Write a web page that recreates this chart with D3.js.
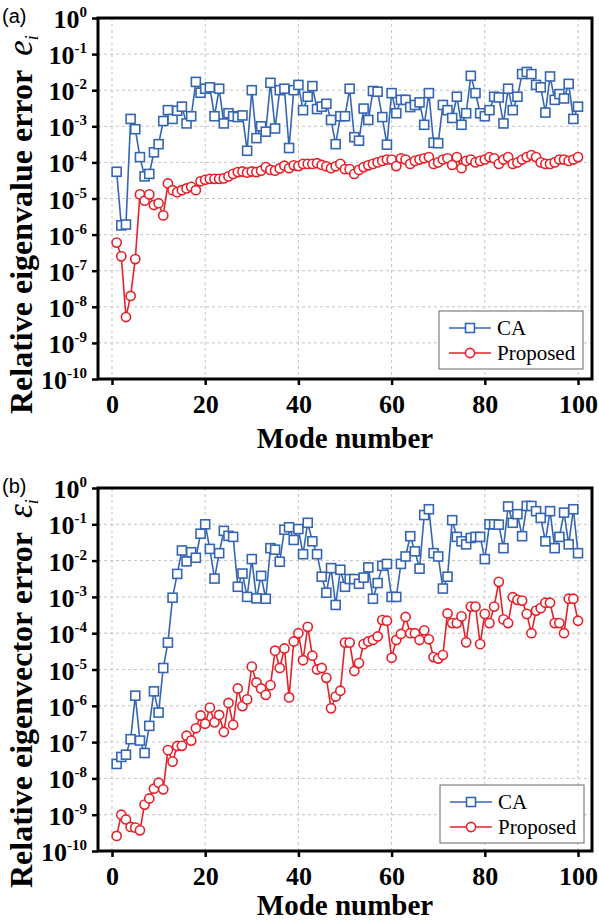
<!DOCTYPE html>
<html>
<head>
<meta charset="utf-8">
<script src="https://cdn.jsdelivr.net/npm/d3@7"></script>
<style>
	body { margin: 0; background: #fff; }
	svg { display: block; }
</style>
</head>
<body>
<svg id="chart" width="599" height="923"></svg>
<script>
// mode numbers 1..100
const modes = d3.range(1, 101);

const xTicks = [0, 20, 40, 60, 80, 100];
const yExponents = [0, -1, -2, -3, -4, -5, -6, -7, -8, -9, -10];

// (a) relative eigenvalue error
const caEigenvalue = [
	5.5e-5, 1.8e-6, 1.9e-6, 1.6e-3, 8.3e-4, 1.4e-4, 4.1e-5, 4.8e-5, 1.9e-4, 3.2e-4,
	1.4e-3, 2.8e-3, 1.6e-3, 2.7e-3, 3.5e-3, 1.2e-3, 1.9e-3, 1.7e-2, 8.5e-3, 1.1e-2,
	1.2e-2, 1.9e-3, 1.1e-2, 1.2e-3, 2.3e-3, 1.9e-3, 1.8e-3, 2.0e-3, 2.1e-4, 1.0e-2,
	4.7e-4, 1.0e-3, 7.1e-4, 1.6e-2, 8.7e-4, 1.0e-2, 1.1e-2, 2.5e-4, 1.0e-2, 1.4e-2,
	2.8e-3, 6.6e-3, 1.3e-2, 3.0e-3, 3.5e-3, 4.2e-3, 1.5e-3, 3.2e-4, 1.9e-3, 1.9e-3,
	1.1e-2, 5.0e-4, 4.0e-4, 3.1e-3, 1.5e-3, 9.5e-3, 9.1e-3, 1.8e-3, 3.1e-4, 8.3e-3,
	2.3e-3, 5.4e-3, 5.4e-3, 3.4e-3, 3.9e-3, 4.6e-3, 1.1e-3, 8.3e-3, 3.5e-4, 3.4e-4,
	3.9e-3, 2.8e-3, 1.7e-3, 6.6e-3, 1.1e-3, 2.3e-3, 2.5e-2, 8.3e-3, 2.3e-3, 1.9e-3,
	2.8e-3, 6.6e-3, 6.3e-3, 1.2e-3, 1.1e-2, 2.8e-3, 6.6e-3, 2.8e-2, 3.2e-2, 2.8e-2,
	1.4e-2, 1.2e-2, 2.4e-3, 2.4e-2, 5.4e-3, 7.8e-3, 5.9e-3, 1.5e-2, 1.6e-3, 3.5e-3
];
const proposedEigenvalue = [
	6.0e-7, 2.5e-7, 5.2e-9, 2.0e-8, 2.1e-7, 1.3e-5, 8.7e-6, 1.3e-5, 6.6e-6, 7.4e-6,
	3.4e-6, 2.6e-5, 1.7e-5, 1.5e-5, 1.7e-5, 1.9e-5, 2.1e-5, 1.7e-5, 3.0e-5, 3.3e-5,
	3.5e-5, 3.5e-5, 3.5e-5, 3.6e-5, 4.1e-5, 4.8e-5, 5.4e-5, 5.6e-5, 5.2e-5, 5.6e-5,
	5.4e-5, 5.9e-5, 7.4e-5, 6.2e-5, 5.9e-5, 6.8e-5, 8.1e-5, 6.9e-5, 8.3e-5, 7.9e-5,
	9.1e-5, 9.1e-5, 9.1e-5, 9.5e-5, 8.5e-5, 7.8e-5, 6.9e-5, 7.8e-5, 9.1e-5, 6.5e-5,
	6.5e-5, 4.8e-5, 6.2e-5, 7.4e-5, 8.3e-5, 9.1e-5, 1.0e-4, 1.1e-4, 1.2e-4, 1.2e-4,
	7.9e-5, 1.3e-4, 1.2e-4, 9.1e-5, 1.1e-4, 1.2e-4, 1.3e-4, 1.4e-4, 9.1e-5, 1.0e-4,
	1.2e-4, 1.3e-4, 8.5e-5, 1.4e-4, 6.9e-5, 1.1e-4, 1.2e-4, 1.0e-4, 1.1e-4, 1.2e-4,
	1.4e-4, 1.3e-4, 9.1e-5, 1.2e-4, 1.4e-4, 9.1e-5, 1.0e-4, 1.2e-4, 1.4e-4, 1.6e-4,
	1.4e-4, 1.0e-4, 9.1e-5, 9.1e-5, 1.0e-4, 1.2e-4, 1.2e-4, 1.1e-4, 1.2e-4, 1.4e-4
];

// (b) relative eigenvector error
const caEigenvector = [
	2.5e-8, 3.9e-8, 4.5e-8, 1.2e-7, 1.9e-6, 1.1e-7, 5.0e-8, 2.8e-7, 2.5e-6, 6.5e-7,
	1.1e-5, 5.5e-5, 9.5e-4, 4.3e-3, 1.9e-2, 9.5e-3, 1.7e-2, 1.2e-2, 5.5e-2, 1.0e-1,
	2.1e-2, 3.2e-3, 1.6e-2, 6.6e-2, 4.8e-2, 4.5e-2, 1.9e-3, 4.4e-3, 1.0e-3, 1.1e-2,
	9.1e-4, 3.8e-3, 8.9e-4, 2.2e-2, 2.0e-2, 9.3e-3, 7.1e-2, 8.3e-2, 3.7e-2, 7.4e-2,
	1.5e-2, 1.1e-1, 3.4e-2, 1.5e-2, 3.6e-3, 1.3e-3, 6.2e-3, 6.0e-4, 5.6e-3, 1.9e-3,
	3.1e-3, 3.1e-3, 2.3e-3, 3.4e-3, 6.5e-3, 8.9e-4, 2.4e-3, 7.2e-3, 8.1e-3, 1.0e-3,
	1.0e-3, 8.1e-3, 1.3e-2, 4.7e-2, 1.8e-2, 6.0e-3, 1.8e-1, 2.6e-1, 1.6e-2, 1.3e-2,
	1.7e-3, 3.6e-3, 1.3e-1, 4.5e-2, 3.4e-2, 2.8e-2, 4.2e-2, 4.5e-2, 4.5e-2, 1.1e-2,
	1.0e-1, 1.0e-1, 9.8e-2, 2.2e-2, 3.1e-1, 1.1e-1, 1.9e-1, 4.7e-2, 3.2e-1, 3.2e-1,
	2.3e-1, 1.5e-1, 3.4e-2, 2.3e-1, 2.2e-2, 4.5e-2, 2.1e-1, 2.8e-2, 2.6e-1, 1.6e-2
];
const proposedEigenvector = [
	2.6e-10, 1.0e-9, 7.4e-10, 4.6e-10, 4.4e-10, 3.7e-10, 1.9e-9, 2.8e-9, 5.2e-9, 7.6e-9,
	5.0e-9, 6.0e-8, 2.9e-8, 7.8e-8, 7.9e-8, 1.5e-7, 1.1e-7, 2.4e-7, 5.4e-7, 3.2e-7,
	8.9e-7, 3.5e-7, 5.6e-7, 1.9e-7, 1.2e-6, 3.0e-7, 3.0e-6, 9.8e-7, 1.5e-6, 1.2e-5,
	4.4e-6, 3.0e-6, 2.0e-6, 3.7e-6, 3.3e-5, 1.1e-5, 3.8e-5, 1.7e-6, 5.9e-5, 1.0e-4,
	1.8e-5, 1.5e-4, 2.4e-5, 1.0e-5, 1.1e-5, 5.9e-6, 8.5e-7, 1.8e-6, 2.6e-6, 5.5e-5,
	5.5e-5, 9.1e-6, 1.5e-5, 5.0e-5, 5.9e-5, 6.5e-5, 8.1e-5, 2.3e-4, 2.2e-4, 2.1e-5,
	6.5e-5, 9.5e-5, 2.8e-4, 1.0e-4, 1.0e-4, 6.5e-5, 1.2e-4, 6.8e-5, 2.2e-5, 2.0e-5,
	2.5e-5, 3.5e-4, 1.9e-4, 1.9e-4, 2.9e-4, 5.6e-5, 5.4e-4, 5.4e-4, 5.0e-5, 3.4e-4,
	1.9e-4, 5.4e-4, 2.6e-3, 2.4e-4, 1.9e-4, 9.8e-4, 8.3e-4, 7.9e-4, 3.4e-4, 1.0e-4,
	4.2e-4, 4.9e-4, 6.9e-4, 6.9e-4, 1.9e-4, 1.9e-4, 1.0e-4, 8.9e-4, 8.9e-4, 2.2e-4
];

const seriesNames = ["CA", "Proposed"];
const blue = "#3566b4";
const red = "#e6212a";

const svg = d3.select("#chart");
const serif = "'Liberation Serif', 'Times New Roman', serif";

function drawPanel(cfg) {
	var x = d3.scaleLinear().domain([-3, 103]).range([cfg.left, cfg.right]);
	var y = d3.scaleLog().domain([1e-10, 1]).range([cfg.bottom, cfg.top]);
	var g = svg.append("g");

	// dashed grid
	g.append("g").selectAll("line")
		.data(yExponents.filter(e => e < 0 && e > -10))
		.enter().append("line")
		.attr("x1", cfg.left).attr("x2", cfg.right)
		.attr("y1", d => y(Math.pow(10, d))).attr("y2", d => y(Math.pow(10, d)))
		.style("stroke", "#c4c4c4").style("stroke-width", 1).style("stroke-dasharray", "3,3");
	g.append("g").selectAll("line")
		.data(xTicks)
		.enter().append("line")
		.attr("x1", d => x(d)).attr("x2", d => x(d))
		.attr("y1", cfg.top).attr("y2", cfg.bottom)
		.style("stroke", "#c4c4c4").style("stroke-width", 1).style("stroke-dasharray", "3,3");

	// axes
	var xAxis = g.append("g")
		.attr("transform", "translate(0," + cfg.bottom + ")")
		.call(d3.axisBottom(x).tickValues(xTicks).tickSize(6).tickPadding(10).tickFormat(d3.format("d")));
	xAxis.select(".domain").remove();
	xAxis.selectAll("line").style("stroke", "#000").style("stroke-width", 2.5);
	xAxis.selectAll("text")
		.style("font-family", serif).style("font-weight", "bold").style("font-size", "26px").style("fill", "#000");

	var yAxis = g.append("g")
		.attr("transform", "translate(" + cfg.left + ",0)")
		.call(d3.axisLeft(y).tickValues(yExponents.map(e => Math.pow(10, e))).tickSize(6).tickFormat(""));
	yAxis.select(".domain").remove();
	yAxis.selectAll("line").style("stroke", "#000").style("stroke-width", 2.5);

	// 10^n labels
	var lab = g.append("g").selectAll("text")
		.data(yExponents)
		.enter().append("text")
		.attr("x", cfg.left - 11)
		.attr("y", d => y(Math.pow(10, d)) + 10)
		.attr("text-anchor", "end")
		.style("font-family", serif).style("font-weight", "bold").style("font-size", "26px");
	lab.append("tspan").text("10");
	lab.append("tspan").attr("dy", -11).style("font-size", "15px").text(d => d === 0 ? "0" : "-" + (-d));

	// frame
	g.append("rect")
		.attr("x", cfg.left).attr("y", cfg.top)
		.attr("width", cfg.right - cfg.left).attr("height", cfg.bottom - cfg.top)
		.style("fill", "none").style("stroke", "#000").style("stroke-width", 3);

	// series
	var line = d3.line().x((d, i) => x(modes[i])).y(d => y(d));
	g.append("path").datum(cfg.ca).attr("d", line)
		.style("fill", "none").style("stroke", blue).style("stroke-width", 1.6);
	g.append("path").datum(cfg.proposed).attr("d", line)
		.style("fill", "none").style("stroke", red).style("stroke-width", 1.6);

	g.append("g").selectAll("rect")
		.data(cfg.ca)
		.enter().append("rect")
		.attr("x", (d, i) => x(modes[i]) - 4.5).attr("y", d => y(d) - 4.5)
		.attr("width", 9).attr("height", 9)
		.style("fill", "#fff").style("stroke", blue).style("stroke-width", 1.6);
	g.append("g").selectAll("circle")
		.data(cfg.proposed)
		.enter().append("circle")
		.attr("cx", (d, i) => x(modes[i])).attr("cy", d => y(d)).attr("r", 4.6)
		.style("fill", "#fff").style("stroke", red).style("stroke-width", 1.6);

	// legend
	var lg = g.append("g").attr("transform", "translate(" + cfg.legend[0] + "," + cfg.legend[1] + ")");
	lg.append("rect").attr("width", 144).attr("height", 58)
		.style("fill", "#fff").style("stroke", "#666").style("stroke-width", 1);
	seriesNames.forEach(function(name, i) {
		var ly = 17 + i * 25;
		var col = i === 0 ? blue : red;
		lg.append("line").attr("x1", 10).attr("x2", 52).attr("y1", ly).attr("y2", ly)
			.style("stroke", col).style("stroke-width", 1.6);
		if (i === 0) {
			lg.append("rect").attr("x", 31 - 4.5).attr("y", ly - 4.5).attr("width", 9).attr("height", 9)
				.style("fill", "#fff").style("stroke", col).style("stroke-width", 1.6);
		} else {
			lg.append("circle").attr("cx", 31).attr("cy", ly).attr("r", 4.6)
				.style("fill", "#fff").style("stroke", col).style("stroke-width", 1.6);
		}
		lg.append("text").attr("x", 58).attr("y", ly + 7).text(name)
			.style("font-family", serif).style("font-size", "21px");
	});

	// titles
	svg.append("text")
		.attr("x", (cfg.left + cfg.right) / 2).attr("y", cfg.xTitleY)
		.attr("text-anchor", "middle")
		.style("font-family", serif).style("font-weight", "bold").style("font-size", "29px")
		.text("Mode number");

	var yt = svg.append("text")
		.attr("transform", "translate(32," + cfg.yTitleStart + ") rotate(-90)")
		.style("font-family", serif).style("font-weight", "bold").style("font-size", "32px");
	yt.append("tspan").text(cfg.yTitle);
	yt.append("tspan").attr("dx", 14).style("font-style", "italic").style("font-weight", "normal").style("font-size", "35px").text(cfg.symbol);
	yt.append("tspan").attr("dy", 6).style("font-style", "italic").style("font-weight", "normal").style("font-size", "18px").text("i");

	svg.append("text")
		.attr("x", 2).attr("y", cfg.top + 5)
		.style("font-family", "'Liberation Sans', Arial, sans-serif").style("font-size", "20px")
		.text(cfg.tag);
}

drawPanel({
	left: 98, right: 592, top: 18, bottom: 379,
	ca: caEigenvalue, proposed: proposedEigenvalue,
	legend: [439, 311], xTitleY: 448, yTitleStart: 414,
	yTitle: "Relative eigenvalue error", symbol: "e", tag: "(a)"
});
drawPanel({
	left: 98, right: 592, top: 488, bottom: 851,
	ca: caEigenvector, proposed: proposedEigenvector,
	legend: [440, 785], xTitleY: 915, yTitleStart: 888,
	yTitle: "Relative eigenvector error", symbol: "\u03b5", tag: "(b)"
});
</script>
</body>
</html>
